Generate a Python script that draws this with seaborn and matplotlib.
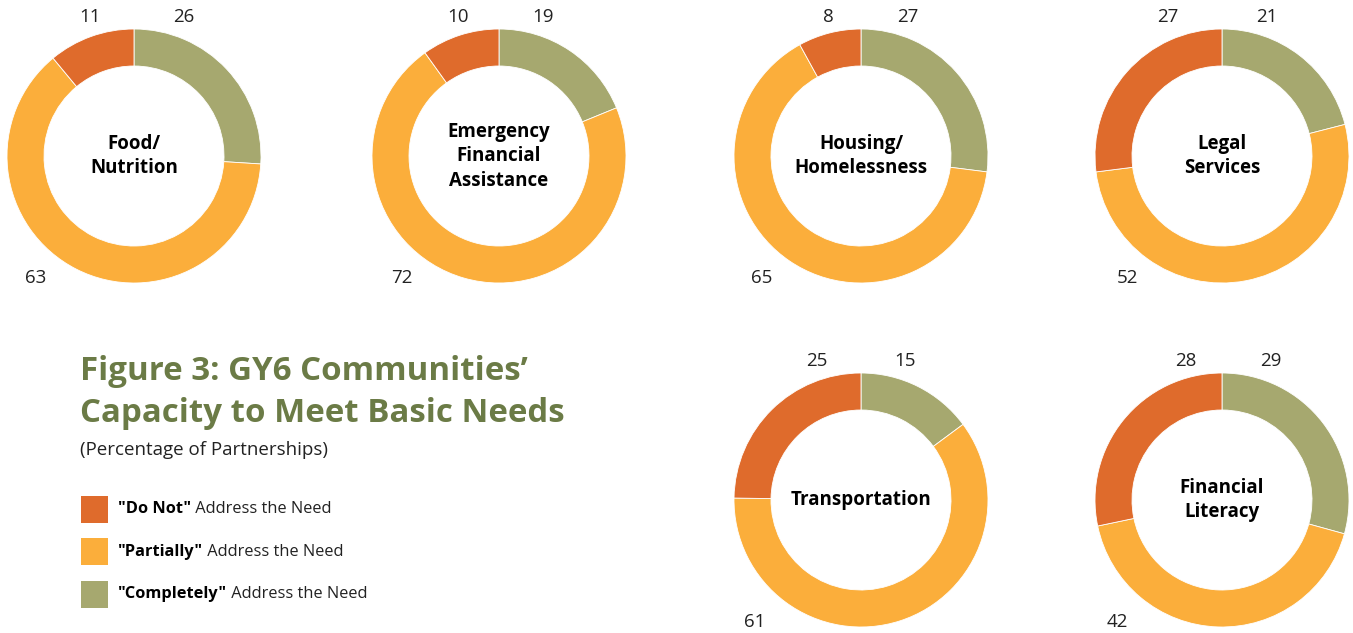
import matplotlib
matplotlib.use("Agg")
import matplotlib.pyplot as plt
import seaborn as sns

# data (percent of partnerships)
needs = ["Food/\nNutrition", "Emergency\nFinancial\nAssistance", "Housing/\nHomelessness",
         "Legal\nServices", "Transportation", "Financial\nLiteracy"]
do_not = [11, 10, 8, 27, 25, 28]
partially = [63, 72, 65, 52, 61, 42]
completely = [26, 19, 27, 21, 15, 29]

categories = ['"Do Not"', '"Partially"', '"Completely"']
colors = ["#DF6B2C", "#FBAE3B", "#A6A86F"]

# layout in pixels (image coords, y down)
W, H = 1353, 633
centers = [(134, 156), (499, 156), (861, 156), (1222, 156), (861, 500), (1222, 500)]
# label x offsets: do not, completely, partially
lab_dx = [(-44, 50, -98), (-41, 44, -97), (-33, 47, -99),
          (-54, 45, -95), (-44, 44, -106), (-36, 49, -105)]
R = 127
ring = 37

sns.set_theme(style="white")
plt.rcParams["font.family"] = ["Open Sans", "DejaVu Sans"]

fig = plt.figure(figsize=(W / 100, H / 100), dpi=100)
ax = fig.add_axes([0, 0, 1, 1])

for i, (cx, cy) in enumerate(centers):
    vals = [completely[i], partially[i], do_not[i]]
    ax.pie(vals, colors=[colors[2], colors[1], colors[0]], startangle=90,
           counterclock=False, center=(cx, H - cy), radius=R,
           wedgeprops=dict(width=ring, edgecolor="white", linewidth=0.6))
    ax.text(cx, H - cy, needs[i], ha="center", va="center", fontsize=13.5,
            fontweight="bold", color="black", linespacing=1.3)
    dn, cp, pa = lab_dx[i]
    ty = H - (cy - 139)
    ax.text(cx + dn, ty, str(do_not[i]), ha="center", va="center", fontsize=13.5, color="#222222")
    ax.text(cx + cp, ty, str(completely[i]), ha="center", va="center", fontsize=13.5, color="#222222")
    ax.text(cx + pa, H - (cy + 122), str(partially[i]), ha="center", va="center",
            fontsize=13.5, color="#222222")

ax.set_xlim(0, W)
ax.set_ylim(0, H)
ax.set_aspect("auto")
ax.axis("off")

# title block
ax.text(80, H - 372, "Figure 3: GY6 Communities\u2019", fontsize=23.8, fontweight="bold",
        color="#6B7B46", ha="left", va="center")
ax.text(80, H - 413, "Capacity to Meet Basic Needs", fontsize=23.8, fontweight="bold",
        color="#6B7B46", ha="left", va="center")
ax.text(80, H - 450, "(Percentage of Partnerships)", fontsize=13.5, color="#222222",
        ha="left", va="center")

# legend
for j, lab in enumerate(categories):
    yc = 509 + j * 42.5
    ax.add_patch(plt.Rectangle((81, H - yc - 13.5), 27, 27, color=colors[j], lw=0))
    t = ax.text(118, H - yc, lab, fontsize=11.8, fontweight="bold", color="black",
                ha="left", va="center")
    ax.annotate(" Address the Need", xy=(1, 0.5), xycoords=t, fontsize=11.8,
                color="#222222", ha="left", va="center")

fig.savefig("out.png", dpi=100)
